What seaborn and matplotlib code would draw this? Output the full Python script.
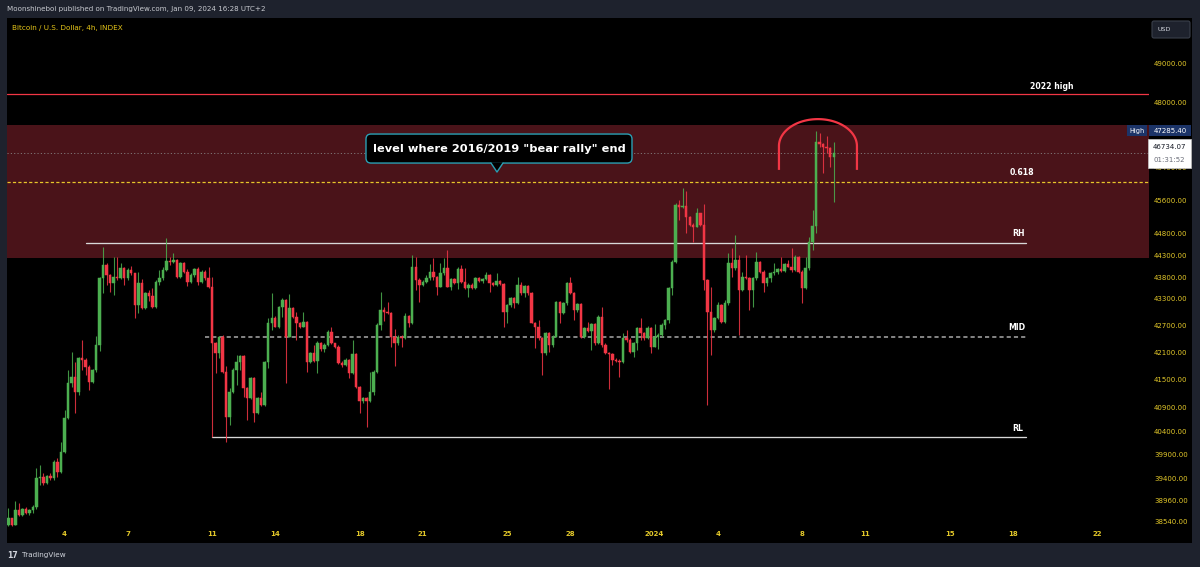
import matplotlib
matplotlib.use("Agg")
import matplotlib.pyplot as plt
import matplotlib.dates as mdates
import matplotlib.ticker as mticker
from matplotlib.patches import Rectangle, FancyBboxPatch, Polygon
from matplotlib.lines import Line2D
from matplotlib.transforms import IdentityTransform
import numpy as np
import pandas as pd
import seaborn as sns

# ---------------- data (BTC/USD 4h candles) ----------------
start_time = "2023-12-01 08:00"
first_open = 38460

closes = [
    38595, 38460, 38764, 38662, 38778, 38697, 38764, 38831, 39413, 39446,
    39310, 39461, 39413, 39758, 39550, 39967, 40673, 41426, 41570, 41244,
    41972, 41935, 41788, 41461, 41716, 42266, 43770, 44077, 43846, 43656,
    43807, 43770, 44000, 43770, 43961, 43885, 43162, 43656, 43087, 43428,
    43366, 43124, 43692, 43770, 43961, 44176, 44153, 44192, 43807, 44115,
    43922, 43692, 43846, 43977, 43692, 43922, 43770, 43579, 42304, 42096,
    42451, 41679, 40707, 41244, 41716, 41898, 42023, 41318, 41102, 41535,
    40780, 41102, 40958, 41898, 42750, 42862, 42674, 43110, 43275, 42451,
    43087, 42885, 42750, 42674, 42786, 41898, 42082, 41920, 42317, 42171,
    42266, 42562, 42304, 42229, 41876, 41825, 41935, 41644, 42067, 41353,
    41050, 41102, 41050, 41244, 41679, 42712, 43049, 43011, 42988, 42451,
    42304, 42451, 42414, 42914, 42750, 44038, 43731, 43617, 43692, 43770,
    43922, 43807, 43579, 43885, 44000, 43579, 43747, 43656, 43977, 43692,
    43541, 43617, 43541, 43784, 43715, 43747, 43846, 43656, 43617, 43715,
    43633, 43011, 43162, 43314, 43200, 43617, 43428, 43594, 43428, 42764,
    42674, 42414, 42082, 42526, 42266, 42451, 43237, 42974, 43214, 43656,
    43428, 43049, 43185, 42451, 42638, 42584, 42735, 42304, 42898, 42266,
    42096, 42067, 41935, 41920, 41898, 42414, 42377, 42118, 42304, 42638,
    42526, 42414, 42638, 42229, 42451, 42488, 42712, 42824, 43541, 44153,
    45485, 45430, 45461, 45207, 45011, 44971, 45288, 45011, 43731, 43011,
    42600, 42862, 43162, 42786, 43214, 44115, 44000, 44192, 43503, 43807,
    43770, 43503, 43770, 44153, 43922, 43656, 43770, 43899, 43922, 43977,
    43945, 44100, 44038, 43961, 44269, 43922, 43541, 44000, 44618, 44987,
    47019, 46962, 46896, 46857, 46652, 46734.07,
]
highs = [
    38800, 38610, 38954, 38901, 38799, 38819, 38790, 38860, 39620, 39689,
    39529, 39482, 39516, 39793, 39829, 40165, 40850, 41716, 42104, 41898,
    42008, 42377, 41972, 41825, 41731, 42466, 43807, 44488, 44130, 43880,
    44255, 44255, 44115, 44038, 44000, 44054, 43899, 43922, 43747, 43465,
    43503, 43542, 43731, 43961, 44038, 44698, 44269, 44348, 44208, 44153,
    44150, 43977, 43885, 44000, 44023, 43961, 43950, 44023, 43792, 42330,
    42466, 42480, 41803, 41318, 41753, 42045, 42045, 42045, 41350, 41557,
    41560, 41136, 41244, 41920, 42862, 43441, 42914, 43139, 43314, 43300,
    43412, 43110, 43011, 42786, 43011, 42810, 42118, 42266, 42361, 42339,
    42304, 42600, 42674, 42317, 42266, 41920, 41972, 41950, 42377, 42082,
    41368, 41136, 41130, 41679, 41716, 42750, 43457, 43110, 43236, 43011,
    42616, 42488, 42488, 42975, 42937, 44309, 44255, 43770, 43731, 43846,
    44100, 44231, 43823, 44115, 44246, 44425, 43770, 43770, 44023, 44077,
    44000, 43656, 43656, 43807, 43807, 43770, 43922, 43869, 43692, 43885,
    43731, 43656, 43185, 43351, 43340, 43807, 43692, 43617, 43620, 43465,
    42786, 42824, 42440, 42562, 42550, 42488, 43259, 43260, 43237, 43692,
    43807, 43465, 43214, 43210, 42674, 42786, 42764, 42750, 42937, 43124,
    42304, 42118, 42096, 41986, 41950, 42526, 42600, 42414, 42339, 42674,
    42862, 42562, 42690, 42660, 42735, 42526, 42750, 42840, 43579, 44192,
    45540, 45604, 45885, 45827, 45224, 45065, 45406, 45302, 45509, 43760,
    43579, 42898, 43237, 43190, 43275, 44348, 44464, 44776, 44309, 43922,
    44309, 43792, 43807, 44386, 44176, 43961, 43807, 43922, 44130, 44000,
    44269, 44130, 44192, 44479, 44309, 44286, 43950, 44269, 44736, 45366,
    47285.40, 47226, 46995, 47160, 46880, 47019,
]
lows = [
    38440, 38440, 38455, 38642, 38648, 38677, 38662, 38709, 38778, 39275,
    39275, 39290, 39378, 39378, 39446, 39529, 39946, 40652, 41353, 40792,
    41173, 41716, 41607, 41281, 41426, 41679, 42140, 43428, 43617, 43465,
    43389, 43731, 43750, 43617, 43731, 43846, 42862, 42974, 43065, 43065,
    43259, 43087, 43087, 43617, 43731, 43940, 44077, 44115, 43770, 43770,
    43899, 43594, 43669, 43807, 43617, 43670, 43731, 43549, 40283, 41657,
    41972, 41657, 40177, 40531, 41210, 41390, 41716, 41136, 40637, 41080,
    40601, 40760, 40936, 40936, 41753, 42600, 42660, 42650, 42898, 41426,
    42437, 42862, 42377, 42651, 42660, 41679, 41876, 41898, 41644, 42140,
    42118, 42244, 42288, 42192, 41847, 41788, 41803, 41535, 41629, 41318,
    40792, 40994, 40494, 41028, 41173, 41644, 42600, 42808, 42959, 42229,
    41803, 42266, 42229, 42392, 42674, 42735, 43503, 43237, 43594, 43656,
    43731, 43731, 43389, 43564, 43846, 43564, 43503, 43640, 43519, 43656,
    43519, 43351, 43519, 43533, 43692, 43669, 43731, 43465, 43594, 43600,
    43617, 42674, 42750, 43124, 43087, 43185, 43389, 43351, 43389, 42750,
    42192, 42377, 41607, 42045, 42118, 42214, 42437, 42750, 42959, 43162,
    43412, 42824, 43011, 42414, 42414, 42562, 42155, 42266, 42288, 42229,
    42067, 41296, 41825, 41898, 41571, 41880, 42339, 42082, 41994, 42155,
    42377, 42377, 42392, 42082, 42214, 42171, 42437, 42616, 42764, 43389,
    44130, 45129, 45406, 44815, 44987, 44618, 44957, 44987, 43503, 40958,
    42045, 42562, 42840, 42750, 42764, 43162, 43807, 43961, 42488, 43487,
    43747, 43049, 43124, 43731, 43899, 43465, 43594, 43692, 43846, 43869,
    43922, 43925, 44023, 43922, 43945, 43885, 43214, 43519, 43961, 44425,
    44815, 46896, 46246, 46734, 46408, 45564,
]

price_ticks = [49000, 48000, 46400, 45600, 44800, 44300, 43800, 43300, 42700,
               42100, 41500, 40900, 40400, 39900, 39400, 38960, 38540]
date_ticks = ["2023-12-04", "2023-12-07", "2023-12-11", "2023-12-14", "2023-12-18",
              "2023-12-21", "2023-12-25", "2023-12-28", "2024-01-01", "2024-01-04",
              "2024-01-08", "2024-01-11", "2024-01-15", "2024-01-18", "2024-01-22"]
date_labels = ["4", "7", "11", "14", "18", "21", "25", "28", "2024", "4", "8", "11",
               "15", "18", "22"]

zone_low, zone_high = 44232, 47433
high_2022 = 48220
fib_618 = 46030
range_high = 44581
range_mid = 42451
range_low = 40270
last_price = 46734.07
session_high = 47285.40
countdown = "01:31:52"

rh_start = "2023-12-05 00:00"
mid_start = "2023-12-10 16:00"
rl_start = "2023-12-11 00:00"
levels_end = "2024-01-18 15:00"

callout_text = 'level where 2016/2019 "bear rally" end'
callout_time = "2023-12-24 12:30"
callout_price = 46205
arc_time = "2024-01-08 18:00"
arc_base_price = 46330
arc_top_price = 47580

# ---------------- style ----------------
W, H = 1200, 567
BG = "#1e222d"
GREEN = "#4caf50"
RED = "#f23645"
YEL = "#e3c82a"
ZONE = "#4a1319"
TEAL = "#2a9fb3"

sns.set_theme(style="dark", rc={"axes.facecolor": "black", "figure.facecolor": BG,
                                "lines.scale_dashes": False})
plt.rcParams["font.family"] = ["DejaVu Sans"]

fig = plt.figure(figsize=(12, 5.67), dpi=100)
fig.patch.set_facecolor(BG)
fig.add_artist(Rectangle((7 / W, 1 - 543 / H), 1185 / W, 525 / H, transform=fig.transFigure,
                         facecolor="black", edgecolor="none", zorder=-10))
ax = fig.add_axes([7 / W, 1 - 528 / H, 1142 / W, 510 / H])
ax.set_facecolor("black")

# ---------------- candles ----------------
df = pd.DataFrame({
    "time": pd.date_range(start_time, periods=len(closes), freq="4h"),
    "close": closes, "high": highs, "low": lows,
})
df["open"] = [first_open] + closes[:-1]
xs = mdates.date2num(df["time"].to_numpy())
up = (df["close"] >= df["open"]).to_numpy()
cols = np.where(up, GREEN, RED)
o = df["open"].to_numpy()
c = df["close"].to_numpy()

ax.set_yscale("log")
t0 = pd.Timestamp(start_time)
ax.set_xlim(mdates.date2num(t0 - pd.Timedelta(hours=1.5)),
            mdates.date2num(t0 + pd.Timedelta(hours=1299)))
ax.set_ylim(38400, 50170)

ax.axhspan(zone_low, zone_high, color=ZONE, zorder=1, lw=0)
ax.vlines(xs, df["low"], df["high"], colors=cols, linewidth=0.8, alpha=0.85, zorder=4)
ax.bar(xs, np.abs(c - o), bottom=np.minimum(o, c), width=2.8 / 24, color=cols,
       edgecolor=cols, linewidth=0.35, zorder=5, align="center")

# ---------------- level lines ----------------
def dn(s):
    return mdates.date2num(pd.Timestamp(s))

xl0, xl1 = ax.get_xlim()
ax.axhline(high_2022, color=RED, lw=0.9, zorder=2)
ax.axhline(fib_618, color="#e8c62a", lw=0.9, ls=(0, (2.3, 1.6)), zorder=2)
ax.axhline(last_price, color="#8a8a8a", lw=0.6, ls=(0, (0.8, 1.6)), zorder=2)
sns.lineplot(x=[dn(rh_start), dn(levels_end)], y=[range_high, range_high], ax=ax,
             color="#d8d8d8", linewidth=0.95, zorder=3)
sns.lineplot(x=[dn(mid_start), dn(levels_end)], y=[range_mid, range_mid], ax=ax,
             color="#9c9c9c", linewidth=1.2, linestyle=(0, (3.0, 2.2)), zorder=3)
sns.lineplot(x=[dn(rl_start), dn(levels_end)], y=[range_low, range_low], ax=ax,
             color="#d8d8d8", linewidth=0.95, zorder=3)

lab_kw = dict(color="white", fontsize=5.6, fontweight="bold", ha="center", va="center", zorder=6)
ax.text(dn("2024-01-19 20:30"), 48413, "2022 high", **lab_kw)
ax.text(dn("2024-01-18 10:00"), 46255, "0.618", **lab_kw)
ax.text(dn("2024-01-18 06:00"), 44800, "RH", **lab_kw)
ax.text(dn("2024-01-18 04:00"), 42667, "MID", **lab_kw)
ax.text(dn("2024-01-18 06:00"), 40466, "RL", **lab_kw)

# ---------------- axes ----------------
ax.yaxis.set_major_locator(mticker.FixedLocator(price_ticks))
ax.yaxis.set_minor_locator(mticker.NullLocator())
ax.yaxis.set_major_formatter(mticker.FuncFormatter(lambda v, p: f"{v:.2f}"))
ax.yaxis.tick_right()
ax.tick_params(axis="y", colors=YEL, labelsize=5, length=0, pad=3.6)
ax.xaxis.set_major_locator(mticker.FixedLocator([dn(d) for d in date_ticks]))
ax.xaxis.set_minor_locator(mticker.NullLocator())
ax.xaxis.set_major_formatter(mticker.FixedFormatter(date_labels))
ax.tick_params(axis="x", colors=YEL, labelsize=5, length=0, pad=1.8)
for lab in ax.get_xticklabels():
    lab.set_fontweight("bold")
ax.grid(False)
for s in ax.spines.values():
    s.set_visible(False)
ax.set_xlabel("")
ax.set_ylabel("")
if ax.get_legend() is not None:
    ax.get_legend().remove()

ID = IdentityTransform()

def disp(tstr, price):
    return ax.transData.transform((dn(tstr), price))

def ydisp(price):
    return ax.transData.transform((xl0, price))[1]

# ---------------- arc drawing ----------------
xc, yb = disp(arc_time, arc_base_price)
ytop = ydisp(arc_top_price)
rx, ry = 39, 27
yc = ytop - ry
th = np.linspace(np.pi, 0, 60)
pts = [(xc - rx, yb), (xc - rx, yc)] + [(xc + rx * np.cos(t), yc + ry * np.sin(t)) for t in th] + [(xc + rx, yb)]
fig.add_artist(Line2D([p[0] for p in pts], [p[1] for p in pts], transform=ID,
                      color=RED, lw=1.6, solid_capstyle="butt", zorder=8))

# ---------------- callout ----------------
xt, yt = disp(callout_time, callout_price)
bl, bb, bw, bh = xt - 131, yt + 12, 266, 29
fig.add_artist(FancyBboxPatch((bl, bb), bw, bh, boxstyle="round,pad=0,rounding_size=5",
                              transform=ID, facecolor="black", edgecolor=TEAL, lw=1.0, zorder=8))
fig.add_artist(Polygon([(xt - 6, bb + 0.8), (xt, yt + 3), (xt + 6, bb + 0.8)], closed=True,
                       transform=ID, facecolor="black", edgecolor="none", zorder=9))
fig.add_artist(Line2D([xt - 6, xt, xt + 6], [bb, yt + 3, bb], transform=ID, color=TEAL,
                      lw=1.0, zorder=9))
fig.text(bl + bw / 2, bb + bh / 2, callout_text, transform=ID, color="white",
         fontsize=8.2, fontweight="bold", ha="center", va="center", zorder=10)

# ---------------- price scale labels ----------------
yh = ydisp(session_high)
fig.add_artist(Rectangle((1127, yh - 5.5), 20, 11, transform=ID, facecolor="#1c3468",
                         edgecolor="none", zorder=8))
fig.text(1137, yh, "High", transform=ID, color="white", fontsize=4.7, ha="center",
         va="center", zorder=9)
fig.add_artist(Rectangle((1149, yh - 5.5), 42, 11, transform=ID, facecolor="#1c3468",
                         edgecolor="none", zorder=8))
fig.text(1170, yh, f"{session_high:.2f}", transform=ID, color="white", fontsize=5,
         ha="center", va="center", zorder=9)

yl = ydisp(last_price)
fig.add_artist(Rectangle((1148, yl - 15), 43, 29, transform=ID, facecolor="white",
                         edgecolor="#c8c8c8", lw=0.5, zorder=8))
fig.text(1169.5, yl + 6, f"{last_price:.2f}", transform=ID, color="#131722", fontsize=5,
         ha="center", va="center", zorder=9)
fig.text(1169.5, yl - 6.5, countdown, transform=ID, color="#6a6d78", fontsize=5,
         ha="center", va="center", zorder=9)

# USD box
fig.add_artist(FancyBboxPatch((1152, H - 38), 38, 17, boxstyle="round,pad=0,rounding_size=2",
                              transform=ID, facecolor="#1e222d", edgecolor="#3a3f4b", lw=0.8,
                              zorder=8))
fig.text(1158, H - 29.5, "USD", transform=ID, color="#d1d4dc", fontsize=4.6, ha="left",
         va="center", zorder=9)

# ---------------- header / footer texts ----------------
def ptext(x, y, s, **kw):
    fig.text(x / W, 1 - y / H, s, **kw)

ptext(7, 9, "Moonshineboi published on TradingView.com, Jan 09, 2024 16:28 UTC+2",
      color="#c8cad0", fontsize=5.1, ha="left", va="center")
ptext(12, 28, "Bitcoin / U.S. Dollar, 4h, INDEX", color="#e6c619", fontsize=5.2,
      ha="left", va="center")
ptext(7, 555, "17", color="#d1d4dc", fontsize=5.6, fontweight="bold", ha="left", va="center")
ptext(22, 555, "TradingView", color="#d1d4dc", fontsize=5.2, ha="left", va="center")

fig.savefig("out.png", dpi=100, facecolor=BG)
